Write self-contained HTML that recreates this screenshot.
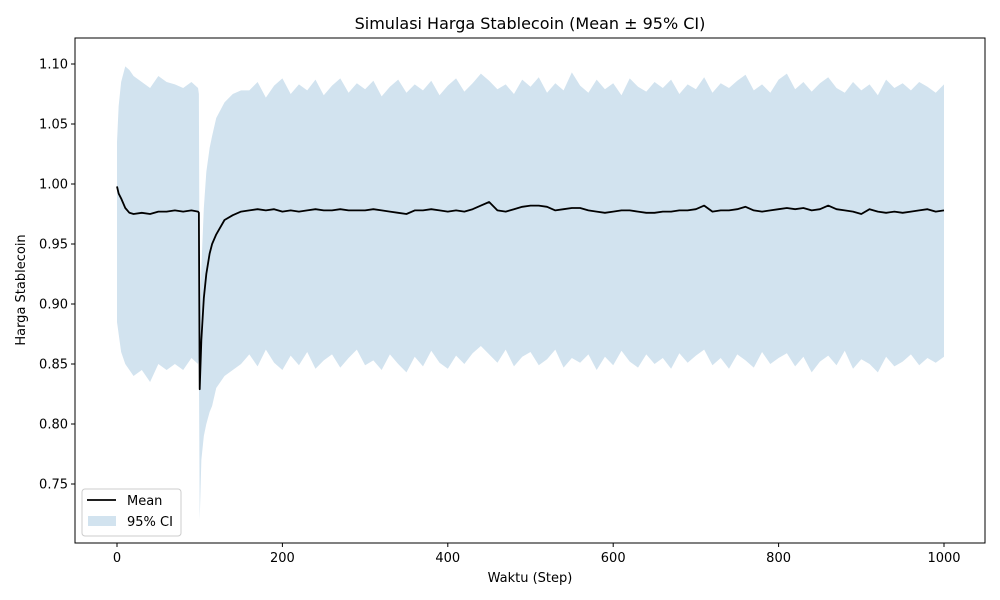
<!DOCTYPE html>
<html><head><meta charset="utf-8"><style>
body{margin:0;background:#fff;}
svg{display:block;font-family:"DejaVu Sans","Liberation Sans",sans-serif;}
</style></head><body>
<svg id="chart" width="1000" height="600"></svg>
<script>
const steps=[0,2,5,10,15,20,30,40,50,60,70,80,90,98,99,100,102,105,108,112,115,120,130,140,150,
160,170,180,190,200,210,220,230,240,250,260,270,280,290,300,310,320,330,340,350,360,370,380,390,400,410,420,430,440,450,460,470,480,490,500,510,520,530,540,550,560,570,580,590,600,610,620,630,640,650,660,670,680,690,700,710,720,730,740,750,760,770,780,790,800,810,820,830,840,850,860,870,880,890,900,910,920,930,940,950,960,970,980,990,1000];
const meanVals=[0.998,0.992,0.988,0.980,0.976,0.975,0.976,0.975,0.977,0.977,0.978,0.977,0.978,0.977,0.976,0.829,0.87,0.905,0.925,0.942,0.950,0.958,0.970,0.974,0.977,
0.978,0.979,0.978,0.979,0.977,0.978,0.977,0.978,0.979,0.978,
0.978,0.979,0.978,0.978,0.978,0.979,0.978,0.977,0.976,0.975,
0.978,0.978,0.979,0.978,0.977,0.978,0.977,0.979,0.982,0.985,
0.978,0.977,0.979,0.981,0.982,0.982,0.981,0.978,0.979,0.980,
0.980,0.978,0.977,0.976,0.977,0.978,0.978,0.977,0.976,0.976,
0.977,0.977,0.978,0.978,0.979,0.982,0.977,0.978,0.978,0.979,
0.981,0.978,0.977,0.978,0.979,0.980,0.979,0.980,0.978,0.979,
0.982,0.979,0.978,0.977,0.975,0.979,0.977,0.976,0.977,0.976,
0.977,0.978,0.979,0.977,0.978];
const upperVals=[1.035,1.065,1.085,1.098,1.095,1.09,1.085,1.08,1.09,1.085,1.083,1.08,1.085,1.08,1.075,0.88,0.93,0.98,1.01,1.03,1.04,1.055,1.068,1.075,1.078,
1.078,1.085,1.072,1.082,1.088,1.075,1.083,1.078,1.087,1.074,
1.082,1.088,1.076,1.084,1.079,1.086,1.073,1.081,1.087,1.076,
1.083,1.078,1.086,1.074,1.082,1.088,1.077,1.084,1.092,1.086,
1.079,1.083,1.075,1.087,1.081,1.089,1.076,1.084,1.078,1.093,
1.082,1.076,1.087,1.079,1.084,1.074,1.088,1.081,1.077,1.085,
1.080,1.087,1.075,1.083,1.079,1.089,1.076,1.084,1.080,1.086,
1.091,1.078,1.083,1.076,1.087,1.092,1.079,1.085,1.077,1.084,
1.089,1.080,1.076,1.085,1.078,1.083,1.074,1.087,1.080,1.084,
1.078,1.085,1.081,1.076,1.083];
const lowerVals=[0.885,0.875,0.86,0.85,0.845,0.84,0.845,0.835,0.85,0.845,0.85,0.845,0.855,0.85,0.855,0.72,0.77,0.79,0.80,0.81,0.815,0.83,0.84,0.845,0.85,
0.858,0.848,0.862,0.851,0.845,0.857,0.849,0.860,0.846,0.853,
0.858,0.847,0.855,0.862,0.849,0.853,0.845,0.858,0.850,0.843,
0.856,0.848,0.861,0.851,0.846,0.857,0.850,0.859,0.865,0.858,
0.851,0.862,0.848,0.856,0.860,0.849,0.854,0.862,0.847,0.855,
0.851,0.858,0.845,0.856,0.849,0.861,0.852,0.847,0.858,0.850,
0.855,0.846,0.859,0.851,0.857,0.862,0.849,0.855,0.846,0.858,
0.853,0.847,0.860,0.850,0.855,0.859,0.848,0.856,0.843,0.852,
0.857,0.849,0.861,0.846,0.854,0.850,0.843,0.856,0.848,0.852,
0.858,0.849,0.855,0.851,0.856];
const xTicks=[0,200,400,600,800,1000];
const yTicks=[0.75,0.80,0.85,0.90,0.95,1.00,1.05,1.10];

const NS='http://www.w3.org/2000/svg';
const svg=document.getElementById('chart');
const L=75,R=985,T=38,B=543;
const xs=v=>117+v*0.827;
const ys=v=>64+(1.10-v)*1200;
function el(tag,attrs,parent){const e=document.createElementNS(NS,tag);for(const k in attrs)e.setAttribute(k,attrs[k]);(parent||svg).appendChild(e);return e;}

let d='M'+steps.map((s,i)=>xs(s)+','+ys(upperVals[i])).join('L');
for(let i=steps.length-1;i>=0;i--)d+='L'+xs(steps[i])+','+ys(lowerVals[i]);
const band=el('path',{d:d+'Z',fill:'#d2e3ef'});


const line=el('path',{d:'M'+steps.map((s,i)=>xs(s)+','+ys(meanVals[i])).join('L'),fill:'none',stroke:'#000','stroke-width':1.8,'stroke-linejoin':'round'});



const frame=el('rect',{x:L,y:T,width:R-L,height:B-T,fill:'none',stroke:'#000','stroke-width':1});



xTicks.forEach(t=>{const x=xs(t);
 el('line',{x1:x,x2:x,y1:B,y2:B+4,stroke:'#000'});
 const tx=el('text',{x:x,y:B+19,'text-anchor':'middle','font-size':13});tx.textContent=t;
 
 });
yTicks.forEach(t=>{const y=ys(t);
 el('line',{x1:L-4,x2:L,y1:y,y2:y,stroke:'#000'});
 const tx=el('text',{x:L-7,y:y+4.5,'text-anchor':'end','font-size':13});tx.textContent=t.toFixed(2);
 
 });

const title=el('text',{x:530,y:29,'text-anchor':'middle','font-size':16});title.textContent='Simulasi Harga Stablecoin (Mean ± 95% CI)';


const xl=el('text',{x:530,y:582,'text-anchor':'middle','font-size':13});xl.textContent='Waktu (Step)';


const yl=el('text',{x:0,y:0,'text-anchor':'middle','font-size':13,transform:'translate(25,290) rotate(-90)'});yl.textContent='Harga Stablecoin';



const lg=el('g',{});


el('rect',{x:82,y:489,width:99,height:47,rx:3,fill:'#fff','fill-opacity':0.8,stroke:'#ccc'},lg);
el('line',{x1:87,x2:116,y1:500,y2:500,stroke:'#000','stroke-width':1.8},lg);
const t1=el('text',{x:127,y:505,'font-size':13},lg);t1.textContent='Mean';


el('rect',{x:88,y:516,width:28,height:10,fill:'#d2e3ef'},lg);
const t2=el('text',{x:127,y:526,'font-size':13},lg);t2.textContent='95% CI';


</script>
</body></html>
